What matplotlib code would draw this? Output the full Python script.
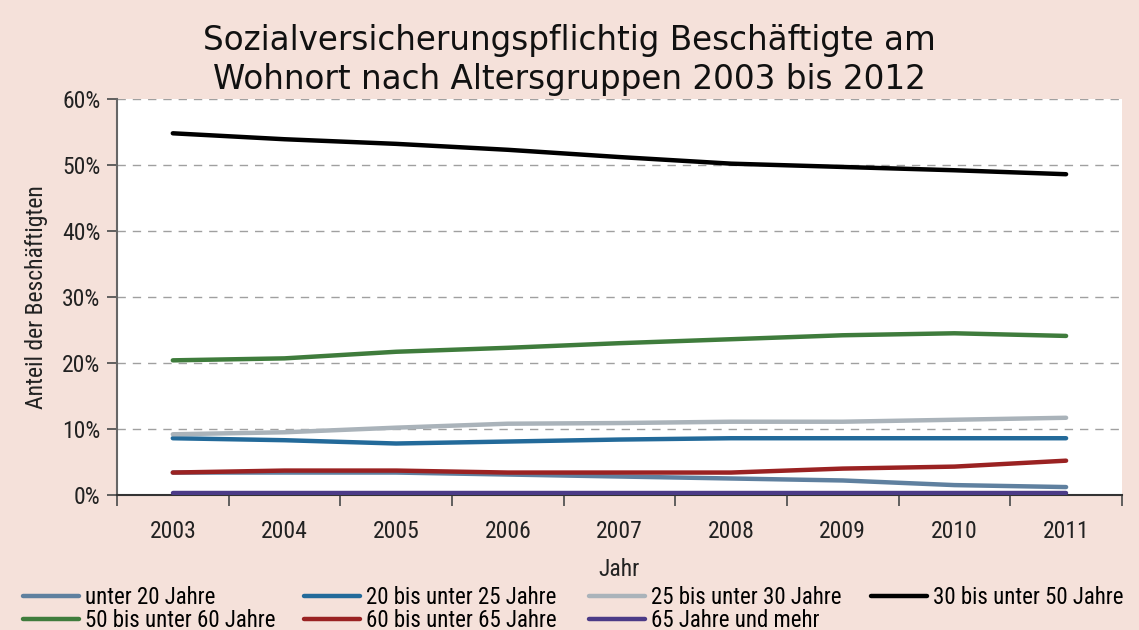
import matplotlib
matplotlib.use("Agg")
import matplotlib.pyplot as plt
from matplotlib import font_manager

years = ["2003", "2004", "2005", "2006", "2007", "2008", "2009", "2010", "2011"]
unter_20 = [3.4, 3.4, 3.4, 3.1, 2.8, 2.5, 2.2, 1.5, 1.2]
b20_25 = [8.6, 8.3, 7.8, 8.1, 8.4, 8.6, 8.6, 8.6, 8.6]
b25_30 = [9.2, 9.5, 10.2, 10.8, 10.9, 11.1, 11.1, 11.4, 11.7]
b30_50 = [54.8, 53.9, 53.2, 52.3, 51.2, 50.2, 49.7, 49.2, 48.6]
b50_60 = [20.4, 20.7, 21.7, 22.3, 23.0, 23.6, 24.2, 24.5, 24.1]
b60_65 = [3.4, 3.7, 3.7, 3.4, 3.4, 3.4, 4.0, 4.3, 5.2]
ab_65 = [0.3, 0.3, 0.3, 0.3, 0.3, 0.3, 0.3, 0.3, 0.3]

labels = ["unter 20 Jahre", "20 bis unter 25 Jahre", "25 bis unter 30 Jahre",
          "30 bis unter 50 Jahre", "50 bis unter 60 Jahre", "60 bis unter 65 Jahre",
          "65 Jahre und mehr"]
series = [unter_20, b20_25, b25_30, b30_50, b50_60, b60_65, ab_65]
colors = ["#5f809f", "#236a9a", "#aab3ba", "#000000", "#3f7c3c", "#9a2222", "#4b3b87"]
yticks = [0, 10, 20, 30, 40, 50, 60]

avail = {f.name for f in font_manager.fontManager.ttflist}
def pick(*names):
    for n in names:
        if n in avail:
            return n
    return "DejaVu Sans"
narrow = pick("Liberation Sans Narrow", "Roboto Condensed", "Lato", "Roboto")
title_font = pick("DejaVu Sans")

bg = "#f5e1da"
fig = plt.figure(figsize=(11.39, 6.30), dpi=100, facecolor=bg)
ax = fig.add_axes([0.1027, 0.2143, 0.8823, 0.6286])
ax.set_facecolor("white")

x = list(range(len(years)))
handles = []
for s, c, l in zip(series, colors, labels):
    h, = ax.plot(x, s, color=c, lw=3.2, label=l, solid_capstyle="round", zorder=3)
    handles.append(h)

fs = 17
ax.set_xlim(-0.5, len(years) - 0.5)
ax.set_ylim(0, 60)
ax.set_yticks(yticks)
ax.set_yticklabels([f"{v}%" for v in yticks])
ax.set_xticks(x)
ax.set_xticklabels(years)
ax.set_xticks([i - 0.5 for i in range(len(years) + 1)], minor=True)
ax.tick_params(axis="x", which="major", length=0, pad=18, labelsize=fs, colors="#222222")
ax.tick_params(axis="x", which="minor", length=8, width=1.3, color="#555555")
ax.tick_params(axis="y", length=7, width=1.3, color="#555555", labelsize=fs, labelcolor="#222222", pad=5)
for lab in ax.get_xticklabels() + ax.get_yticklabels():
    lab.set_fontfamily(narrow)

ax.grid(axis="y", linestyle=(0, (6, 5)), color="#a0a0a0", lw=1.0, zorder=0)
for side in ["top", "right"]:
    ax.spines[side].set_visible(False)
ax.spines["left"].set_color("#666666")
ax.spines["left"].set_linewidth(1.5)
ax.spines["bottom"].set_color("#333333")
ax.spines["bottom"].set_linewidth(1.5)

ax.set_ylabel("Anteil der Beschäftigten", fontsize=fs, family=narrow, color="#222222", labelpad=10)
ax.set_xlabel("Jahr", fontsize=fs, family=narrow, color="#222222", labelpad=11)

fig.text(0.5, 0.905, "Sozialversicherungspflichtig Beschäftigte am\nWohnort nach Altersgruppen 2003 bis 2012",
         ha="center", va="center", fontsize=23.5, family=title_font, linespacing=1.22, color="#111111")

# legend: four columns laid out at fixed positions, filled row by row
lfs = 16.5
col_x = [0.020, 0.267, 0.517, 0.765]
columns = [[0, 4], [1, 5], [2, 6], [3]]
for cx, idx in zip(col_x, columns):
    fig.legend(handles=[handles[i] for i in idx], loc="upper left", bbox_to_anchor=(cx, 0.070),
               frameon=False, prop={"family": narrow, "size": lfs}, handlelength=2.45,
               handletextpad=0.25, labelspacing=0.0, borderpad=0.0, borderaxespad=0.0)

fig.savefig("out.png", dpi=100, facecolor=bg)
